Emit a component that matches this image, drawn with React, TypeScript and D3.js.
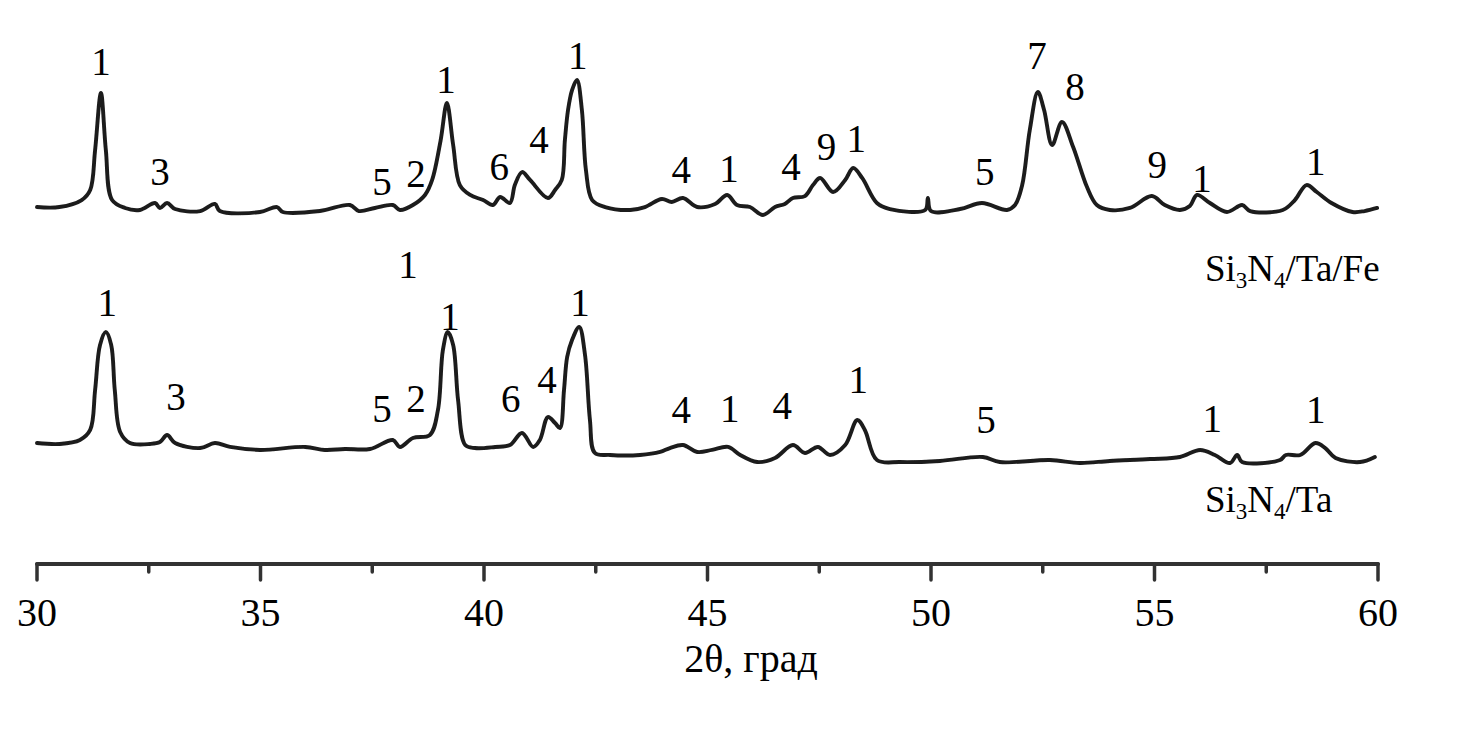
import React, { useEffect, useRef } from "react";
import * as d3 from "d3";

// 2θ (deg), relative intensity (0..100) — Si3N4/Ta/Fe (upper pattern)
const twoThetaFe = [30.0,30.5,31.0,31.19,31.3,31.43,31.54,31.68,31.97,32.3,32.64,32.75,32.91,33.09,33.65,33.98,34.09,34.99,35.37,35.5,36.33,37.0,37.2,37.56,37.96,38.12,38.41,38.68,38.84,39.03,39.17,39.31,39.46,39.69,39.98,40.2,40.36,40.58,40.69,40.85,41.03,41.43,41.59,41.74,41.81,41.88,41.97,42.08,42.19,42.28,42.42,42.71,43.27,43.6,43.98,44.2,44.45,44.77,45.17,45.44,45.66,45.95,46.24,46.51,46.73,46.91,47.18,47.36,47.52,47.81,48.08,48.26,48.46,48.79,49.08,49.87,49.93,50.0,50.65,51.14,51.7,51.88,52.04,52.21,52.39,52.53,52.71,52.93,53.18,53.49,53.71,54.0,54.45,54.94,55.23,55.57,55.79,55.95,56.24,56.62,56.96,57.14,57.87,58.14,58.4,58.63,58.96,59.43,59.7,59.98];
const intensityFe = [5.2,5.2,10.4,17.9,47.8,90.3,47.8,10.4,4.5,3,8.2,4.5,8.2,3.7,2.2,7.5,2.2,1.5,5.2,1.5,2.2,6.7,2.2,4.5,6.7,3,6.7,14.2,25.4,55,82.8,51.5,21.6,14.2,10.4,6.7,12.7,8.2,21.6,31.3,25.4,11.9,17.9,25.4,55.2,77.6,92.5,100,77.6,32.8,10.4,5.2,3,5.2,11.2,9,11.9,5.2,7.5,14.2,6.7,5.2,-0.7,5.2,7.5,11.9,13.4,21.6,26.9,16.4,25.4,34.3,26.9,8.2,3.7,3,11.9,2.2,3.7,8.2,3,6.7,21.6,62.7,91,77.6,51.5,68.7,50,20.1,6.7,3,4.5,13.4,6.7,3,6,14.2,8.2,1.5,6.7,2.2,3,10.4,21.6,16.4,8.2,1.5,2.2,4.5];

// 2θ (deg), relative intensity (0..100) — Si3N4/Ta (lower pattern)
const twoThetaTa = [30.0,30.51,30.96,31.19,31.3,31.41,31.54,31.66,31.74,31.86,32.08,32.53,32.75,32.91,33.09,33.65,33.98,34.32,34.99,36.0,36.44,36.89,37.45,37.96,38.12,38.41,38.79,38.97,39.08,39.19,39.31,39.42,39.58,39.8,40.25,40.58,40.85,41.1,41.25,41.43,41.59,41.7,41.79,41.86,41.97,42.13,42.26,42.37,42.48,42.82,43.49,43.94,44.16,44.45,44.77,45.1,45.46,45.73,46.11,46.51,46.91,47.18,47.47,47.74,48.08,48.35,48.52,48.79,49.31,50.2,51.16,51.54,52.66,53.33,54.0,54.9,55.57,56.02,56.35,56.69,56.85,56.96,57.81,57.94,58.26,58.6,58.82,59.05,59.6,59.93];
const intensityTa = [14.7,14,16.9,24.3,53.7,86.8,96.3,86.8,53.7,22.8,14.7,14,15.4,20.6,14.7,11,14.7,11.8,9.6,11.8,9.6,10.3,10.3,16.9,11.8,18.4,20.6,39,83,96.3,86.8,46.3,13.2,11,11.8,13.2,22.1,11.8,16.9,33.8,29.4,25.7,53.7,77.9,90.4,100,79.4,31.6,7.4,5.9,5.9,8.1,11,13.2,8.1,9.6,11.8,5.9,0.7,3.7,13.2,7.4,11.8,5.9,13.2,31.6,24.3,2.2,0.7,1.5,4.4,0.7,2.2,0,1.5,2.9,4.4,9.6,5.9,0,5.9,0.7,2.2,5.9,5.9,14.7,11,3.7,0.7,4.4];

// Phase labels: text, 2θ position, intensity level
const labelTextFe = ["1","3","5","2","1","6","4","1","4","1","4","9","1","5","7","8","9","1","1"];
const labelPosFe = [31.43,32.75,37.72,38.48,39.15,40.34,41.23,42.1,44.41,45.48,46.87,47.66,48.33,51.2,52.37,53.22,55.06,56.06,58.61];
const labelLevelFe = [103.7,21.6,14.2,20.1,90.3,25.4,45.5,108.2,23.1,23.9,25.4,40.3,46.3,21.6,108.2,85.1,26.9,16.4,29.1];

const labelTextTa = ["1","1","1","1","3","5","2","6","4","4","1","4","1","5","1","1"];
const labelPosTa = [31.57,38.3,39.24,42.15,33.11,37.72,38.48,40.6,41.41,44.41,45.5,46.67,48.37,51.23,56.29,58.61];
const labelLevelTa = [108,136,97.8,108,39,30.1,37.5,37.5,51.5,29.4,30.1,32.4,51.5,22.1,22.8,29.4];

const xTicksMajor = [30, 35, 40, 45, 50, 55, 60];
const xTicksMinor = [32.5, 37.5, 42.5, 47.5, 52.5, 57.5];
const xTitle = "2θ, град";

export default function App() {
  const ref = useRef<SVGSVGElement | null>(null);

  useEffect(() => {
    document.body.style.margin = "0";
    const svg = d3.select(ref.current);
    svg.selectAll("*").remove();
    const font = "'Liberation Serif', 'Times New Roman', serif";
    const ink = "#1c1c1c";

    const x = d3.scaleLinear().domain([30, 60]).range([37, 1378]);
    const yFe = d3.scaleLinear().domain([0, 100]).range([214, 80]);
    const yTa = d3.scaleLinear().domain([0, 100]).range([463, 327]);

    const defs = svg.append("defs");
    defs.append("filter").attr("id", "soft")
      .attr("filterUnits", "userSpaceOnUse")
      .attr("x", 0).attr("y", 0).attr("width", 1480).attr("height", 733)
      .append("feGaussianBlur").attr("stdDeviation", 0.7);

    const drawTrace = (xs: number[], ys: number[], yS: d3.ScaleLinear<number, number>) => {
      const pts = xs.map((v, i) => [v, ys[i]] as [number, number]);
      const line = d3.line<[number, number]>()
        .x(d => x(d[0])).y(d => yS(d[1]))
        .curve(d3.curveCatmullRom.alpha(0.5));
      svg.append("path").attr("d", line(pts) as string)
        .attr("fill", "none").attr("stroke", ink).attr("stroke-width", 3.9)
        .attr("stroke-linejoin", "round").attr("stroke-linecap", "round")
        .attr("filter", "url(#soft)");
    };
    drawTrace(twoThetaFe, intensityFe, yFe);
    drawTrace(twoThetaTa, intensityTa, yTa);

    const drawLabels = (txt: string[], pos: number[], lvl: number[], yS: d3.ScaleLinear<number, number>) => {
      txt.forEach((t, i) => {
        svg.append("text").attr("x", x(pos[i])).attr("y", yS(lvl[i]))
          .attr("text-anchor", "middle").attr("font-family", font)
          .attr("font-size", 39).attr("fill", "#000").text(t);
      });
    };
    drawLabels(labelTextFe, labelPosFe, labelLevelFe, yFe);
    drawLabels(labelTextTa, labelPosTa, labelLevelTa, yTa);

    // series names
    const seriesName = (yBase: number, parts: [string, boolean][]) => {
      const t = svg.append("text").attr("x", 1205).attr("y", yBase)
        .attr("font-family", font).attr("font-size", 37).attr("fill", "#000");
      parts.forEach(([s, sub], i) => {
        const prevSub = i > 0 && parts[i - 1][1];
        const ts = t.append("tspan").text(s);
        if (sub) ts.attr("font-size", 23);
        ts.attr("dy", sub && !prevSub ? 7 : !sub && prevSub ? -7 : 0);
      });
    };
    seriesName(281, [["Si", false], ["3", true], ["N", false], ["4", true], ["/Ta/Fe", false]]);
    seriesName(512, [["Si", false], ["3", true], ["N", false], ["4", true], ["/Ta", false]]);

    // axis
    const axisY = 564;
    const ax = svg.append("g").attr("filter", "url(#soft)");
    ax.append("line").attr("x1", x(30)).attr("x2", x(60)).attr("y1", axisY).attr("y2", axisY)
      .attr("stroke", "#333").attr("stroke-width", 4).attr("stroke-linecap", "round");
    xTicksMajor.forEach(v => {
      ax.append("line").attr("x1", x(v)).attr("x2", x(v)).attr("y1", axisY).attr("y2", axisY + 16)
        .attr("stroke", "#333").attr("stroke-width", 3.5).attr("stroke-linecap", "round");
    });
    xTicksMinor.forEach(v => {
      ax.append("line").attr("x1", x(v)).attr("x2", x(v)).attr("y1", axisY).attr("y2", axisY + 8)
        .attr("stroke", "#333").attr("stroke-width", 3.5).attr("stroke-linecap", "round");
    });
    xTicksMajor.forEach(v => {
      svg.append("text").attr("x", x(v)).attr("y", 626).attr("text-anchor", "middle")
        .attr("font-family", font).attr("font-size", 40).attr("fill", "#000").text(String(v));
    });
    svg.append("text").attr("x", 751).attr("y", 672).attr("text-anchor", "middle")
      .attr("font-family", font).attr("font-size", 40).attr("fill", "#000").text(xTitle);
  }, []);

  return (
    <svg ref={ref} width={1480} height={733}
      style={{ position: "absolute", left: 0, top: 0, background: "#fff", display: "block" }} />
  );
}
